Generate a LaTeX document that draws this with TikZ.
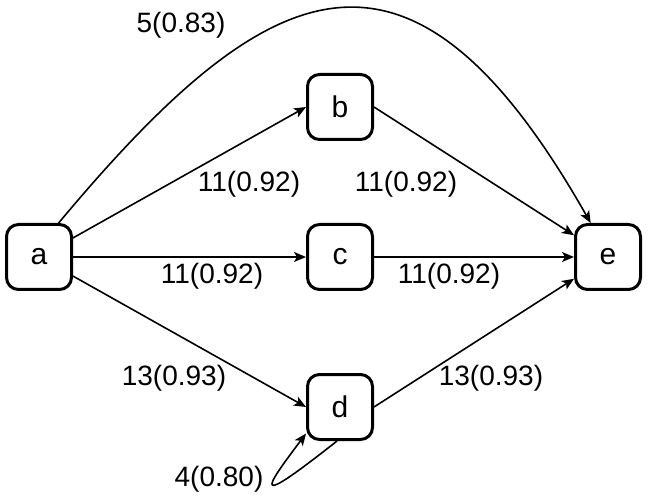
\documentclass[tikz,border=0pt]{standalone}
\usepackage{fontspec}
\setmainfont{Liberation Sans}
\usetikzlibrary{arrows.meta}

\begin{document}
\begin{tikzpicture}[x=1pt, y=-1pt,
    >={Stealth[length=12pt, width=10pt, inset=3pt]},
    state/.style={rectangle, rounded corners=12pt, minimum width=65pt, minimum height=65pt, draw, line width=3pt, font=\fontsize{30}{34}\selectfont},
    lbl/.style={font=\fontsize{28}{32}\selectfont, inner sep=0pt},
    arrow/.style={->, line width=1.6pt},
]
\useasboundingbox (0,0) rectangle (649,500);

\node[state] (a) at (39,257) {a};
\node[state] (b) at (340,107) {b};
\node[state] (c) at (340,257) {c};
\node[state] (d) at (340,407) {d};
\node[state] (e) at (608,257) {e};

\draw[arrow] (a) -- (b.west);
\draw[arrow] (a.east) -- (c.west);
\draw[arrow] (a) -- (d.west);
\draw[arrow] (b.east) -- (e);
\draw[arrow] (c.east) -- (e.west);
\draw[arrow] (d.east) -- (e);
\draw[arrow] (a.60) .. controls (270,-30) and (410,-95) .. (e.117);
\draw[arrow] (d.265) .. controls (252,508) and (262,492) .. (d.218);

\node[lbl] (lab-ae) at (181,25) {5(0.83)};
\node[lbl] (lab-ab) at (249,184) {11(0.92)};
\node[lbl] (lab-be) at (406,184) {11(0.92)};
\node[lbl] (lab-ac) at (212,276) {11(0.92)};
\node[lbl] (lab-ce) at (449,276) {11(0.92)};
\node[lbl] (lab-ad) at (174,378) {13(0.93)};
\node[lbl] (lab-de) at (491,378) {13(0.93)};
\node[lbl] (lab-dd) at (219,479) {4(0.80)};
\end{tikzpicture}
\end{document}
